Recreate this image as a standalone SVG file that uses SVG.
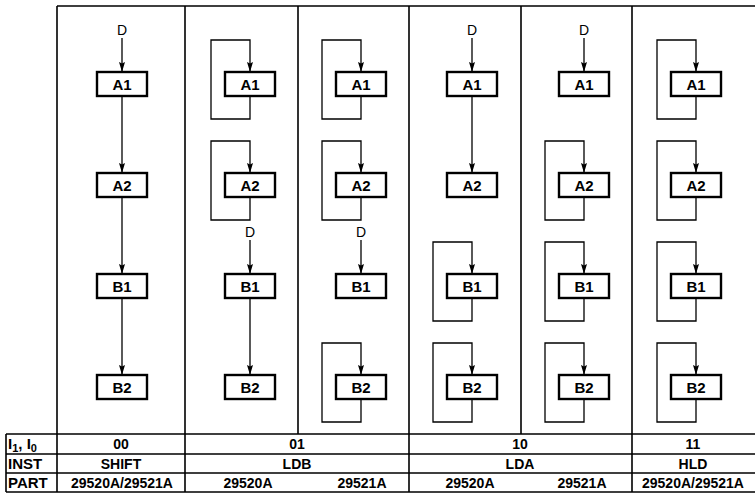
<svg xmlns="http://www.w3.org/2000/svg" width="755" height="501" viewBox="0 0 755 501">
<style>
.frame{fill:none;stroke:#000;stroke-width:1.6}
.box{fill:#fff;stroke:#000;stroke-width:2.4}
.lbl{font-family:"Liberation Sans",Arial,sans-serif;font-size:15px;font-weight:bold;text-anchor:middle;fill:#000}
.d{font-family:"Liberation Sans",Arial,sans-serif;font-size:14px;text-anchor:middle;fill:#000}
.tt{font-family:"Liberation Sans",Arial,sans-serif;font-size:15px;font-weight:bold;fill:#000}
.tv{font-family:"Liberation Sans",Arial,sans-serif;font-size:14px;font-weight:bold;text-anchor:middle;fill:#000}
.c{fill:none;stroke:#000;stroke-width:1.3}
.a{marker-end:url(#ah)}
</style>
<defs>
<marker id="ah" markerUnits="userSpaceOnUse" markerWidth="10" markerHeight="6" refX="10" refY="3" orient="auto" viewBox="0 0 10 6">
<path d="M0,0 L10,3 L0,6 L1.5,3 z" fill="#000"/>
</marker>
</defs>
<rect width="755" height="501" fill="#fff"/>
<g id="frame">
<path class="frame" d="M57,6 H755 M57,6 V492 M185,6 V492 M298,6 V434 M409,6 V492 M521,6 V434 M632,6 V492"/>
<path class="frame" d="M6,434 H755 M6,454 H755 M6,473 H755 M6,492 H755 M6,434 V492"/>
</g>
<g id="connectors">
<path class="c a" d="M122,38 V72"/>
<path class="c a" d="M122,96 V173"/>
<path class="c a" d="M122,197 V274"/>
<path class="c a" d="M122,298 V375"/>
<path class="c a" d="M250,96 V119 H211 V40 H250 V72"/>
<path class="c a" d="M250,197 V220 H211 V141 H250 V173"/>
<path class="c a" d="M250,240 V274"/>
<path class="c a" d="M250,298 V375"/>
<path class="c a" d="M361,96 V119 H322 V40 H361 V72"/>
<path class="c a" d="M361,197 V220 H322 V141 H361 V173"/>
<path class="c a" d="M361,240 V274"/>
<path class="c a" d="M361,399 V422 H322 V343 H361 V375"/>
<path class="c a" d="M472,38 V72"/>
<path class="c a" d="M472,96 V173"/>
<path class="c a" d="M472,298 V321 H433 V242 H472 V274"/>
<path class="c a" d="M472,399 V422 H433 V343 H472 V375"/>
<path class="c a" d="M584,38 V72"/>
<path class="c a" d="M584,197 V220 H545 V141 H584 V173"/>
<path class="c a" d="M584,298 V321 H545 V242 H584 V274"/>
<path class="c a" d="M584,399 V422 H545 V343 H584 V375"/>
<path class="c a" d="M696,96 V119 H657 V40 H696 V72"/>
<path class="c a" d="M696,197 V220 H657 V141 H696 V173"/>
<path class="c a" d="M696,298 V321 H657 V242 H696 V274"/>
<path class="c a" d="M696,399 V422 H657 V343 H696 V375"/>
</g>
<g id="inputs">
<text class="d" x="122" y="35">D</text>
<text class="d" x="250" y="237">D</text>
<text class="d" x="361" y="237">D</text>
<text class="d" x="472" y="35">D</text>
<text class="d" x="584" y="35">D</text>
</g>
<g id="col1">
<rect class="box" x="97" y="72" width="50" height="24"/><text class="lbl" x="122" y="89.5">A1</text>
<rect class="box" x="97" y="173" width="50" height="24"/><text class="lbl" x="122" y="190.5">A2</text>
<rect class="box" x="97" y="274" width="50" height="24"/><text class="lbl" x="122" y="291.5">B1</text>
<rect class="box" x="97" y="375" width="50" height="24"/><text class="lbl" x="122" y="392.5">B2</text>
</g>
<g id="col2">
<rect class="box" x="225" y="72" width="50" height="24"/><text class="lbl" x="250" y="89.5">A1</text>
<rect class="box" x="225" y="173" width="50" height="24"/><text class="lbl" x="250" y="190.5">A2</text>
<rect class="box" x="225" y="274" width="50" height="24"/><text class="lbl" x="250" y="291.5">B1</text>
<rect class="box" x="225" y="375" width="50" height="24"/><text class="lbl" x="250" y="392.5">B2</text>
</g>
<g id="col3">
<rect class="box" x="336" y="72" width="50" height="24"/><text class="lbl" x="361" y="89.5">A1</text>
<rect class="box" x="336" y="173" width="50" height="24"/><text class="lbl" x="361" y="190.5">A2</text>
<rect class="box" x="336" y="274" width="50" height="24"/><text class="lbl" x="361" y="291.5">B1</text>
<rect class="box" x="336" y="375" width="50" height="24"/><text class="lbl" x="361" y="392.5">B2</text>
</g>
<g id="col4">
<rect class="box" x="447" y="72" width="50" height="24"/><text class="lbl" x="472" y="89.5">A1</text>
<rect class="box" x="447" y="173" width="50" height="24"/><text class="lbl" x="472" y="190.5">A2</text>
<rect class="box" x="447" y="274" width="50" height="24"/><text class="lbl" x="472" y="291.5">B1</text>
<rect class="box" x="447" y="375" width="50" height="24"/><text class="lbl" x="472" y="392.5">B2</text>
</g>
<g id="col5">
<rect class="box" x="559" y="72" width="50" height="24"/><text class="lbl" x="584" y="89.5">A1</text>
<rect class="box" x="559" y="173" width="50" height="24"/><text class="lbl" x="584" y="190.5">A2</text>
<rect class="box" x="559" y="274" width="50" height="24"/><text class="lbl" x="584" y="291.5">B1</text>
<rect class="box" x="559" y="375" width="50" height="24"/><text class="lbl" x="584" y="392.5">B2</text>
</g>
<g id="col6">
<rect class="box" x="671" y="72" width="50" height="24"/><text class="lbl" x="696" y="89.5">A1</text>
<rect class="box" x="671" y="173" width="50" height="24"/><text class="lbl" x="696" y="190.5">A2</text>
<rect class="box" x="671" y="274" width="50" height="24"/><text class="lbl" x="696" y="291.5">B1</text>
<rect class="box" x="671" y="375" width="50" height="24"/><text class="lbl" x="696" y="392.5">B2</text>
</g>
<g id="table">
<text class="tt" x="8" y="449">I<tspan font-size="11" dy="3">1</tspan><tspan dy="-3">, I</tspan><tspan font-size="11" dy="3">0</tspan></text>
<text class="tt" x="8" y="469">INST</text>
<text class="tt" x="8" y="488">PART</text>
<text class="tv" x="121" y="449">00</text>
<text class="tv" x="297" y="449">01</text>
<text class="tv" x="520" y="449">10</text>
<text class="tv" x="693" y="449">11</text>
<text class="tv" x="121" y="468.5">SHIFT</text>
<text class="tv" x="297" y="468.5">LDB</text>
<text class="tv" x="520" y="468.5">LDA</text>
<text class="tv" x="693" y="468.5">HLD</text>
<text class="tv" x="122" y="487.5">29520A/29521A</text>
<text class="tv" x="248" y="487.5">29520A</text>
<text class="tv" x="362" y="487.5">29521A</text>
<text class="tv" x="470" y="487.5">29520A</text>
<text class="tv" x="582" y="487.5">29521A</text>
<text class="tv" x="693" y="487.5">29520A/29521A</text>
</g>
</svg>
